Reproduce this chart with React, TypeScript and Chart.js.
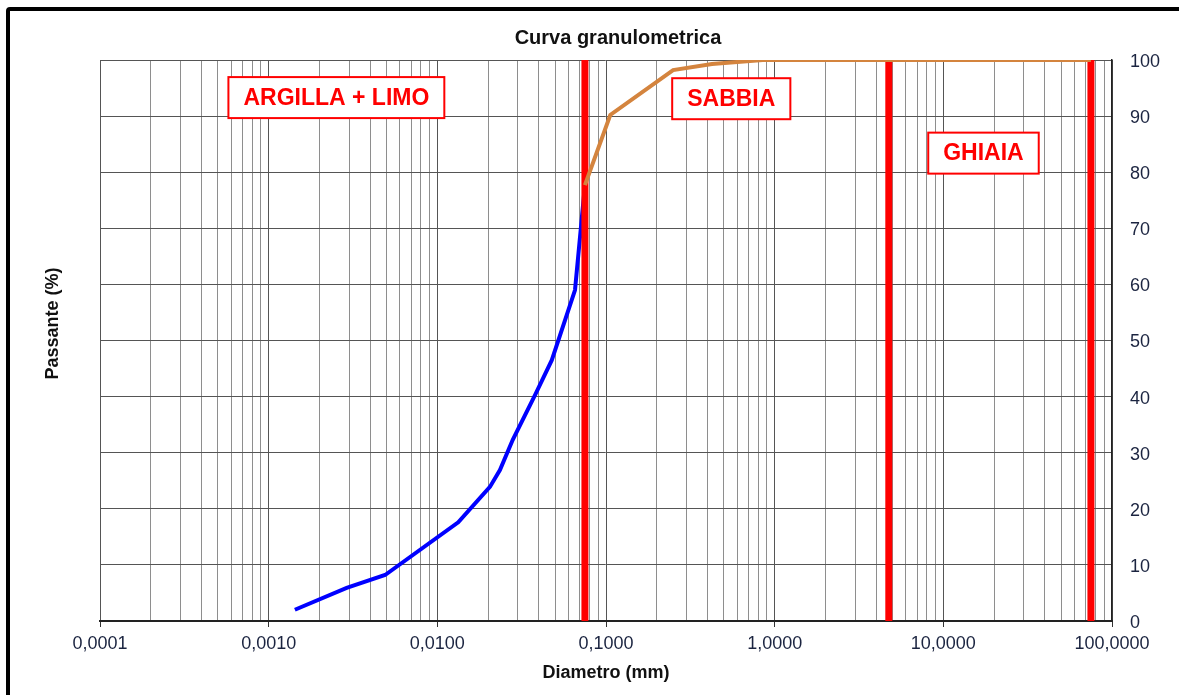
import React, { useEffect, useRef } from 'react';
import { Chart, registerables } from 'chart.js';

Chart.register(...registerables);

// ---- Data ----
const blueDiameters = [0.00143, 0.0029, 0.0049, 0.0133, 0.0205, 0.0235, 0.028, 0.038, 0.0477, 0.0655, 0.075];
const bluePassing = [2.0, 5.9, 8.2, 17.6, 23.9, 26.9, 32.3, 40.3, 46.5, 59.0, 77.7];

const orangeDiameters = [0.075, 0.106, 0.25, 0.425, 0.85, 2.0, 4.75, 75];
const orangePassing = [77.7, 90.2, 98.2, 99.3, 100, 100, 100, 100];

const boundaryDiameters = [0.075, 4.75, 75];

const xDecades = [0.0001, 0.001, 0.01, 0.1, 1, 10, 100];
const yMin = 0;
const yMax = 100;
const yStep = 10;

const zoneLabels = ['ARGILLA + LIMO', 'SABBIA', 'GHIAIA'];
const zoneLabelDiameters = [0.00252, 0.553, 17.3];
const zoneLabelPassing = [93.3, 93.1, 83.4];

const FONT = "'Liberation Sans', Arial, sans-serif";

const allXTicks: number[] = [];
xDecades.forEach((d, i) => {
  if (i < xDecades.length - 1) {
    for (let k = 1; k <= 9; k++) allXTicks.push(k * d);
  } else {
    allXTicks.push(d);
  }
});

const isDecade = (v: number | undefined) => {
  if (v === undefined || v <= 0) return false;
  const l = Math.log10(v);
  return Math.abs(l - Math.round(l)) < 1e-6;
};

const fmt = (v: number) => v.toFixed(4).replace('.', ',');

const decorPlugin = {
  id: 'decor',
  afterDatasetsDraw(chart: any) {
    const { ctx, chartArea, scales } = chart;
    const xs = scales.x;
    const ys = scales.y;
    ctx.save();
    // zone label boxes
    ctx.font = `bold 23px ${FONT}`;
    ctx.textAlign = 'center';
    ctx.textBaseline = 'middle';
    zoneLabels.forEach((t, i) => {
      const cx = xs.getPixelForValue(zoneLabelDiameters[i]);
      const cy = ys.getPixelForValue(zoneLabelPassing[i]);
      const w = ctx.measureText(t).width + 30;
      const h = 41;
      ctx.fillStyle = '#ffffff';
      ctx.fillRect(cx - w / 2, cy - h / 2, w, h);
      ctx.strokeStyle = '#ff0000';
      ctx.lineWidth = 2;
      ctx.strokeRect(cx - w / 2, cy - h / 2, w, h);
      ctx.fillStyle = '#ff0000';
      ctx.fillText(t, cx, cy + 1);
    });
    // title
    ctx.fillStyle = '#111111';
    ctx.font = `bold 20px ${FONT}`;
    ctx.fillText('Curva granulometrica', (chartArea.left + chartArea.right) / 2 + 12, chartArea.top - 22);
    // y title
    ctx.translate(53, (chartArea.top + chartArea.bottom) / 2 - 17);
    ctx.rotate(-Math.PI / 2);
    ctx.font = `bold 18px ${FONT}`;
    ctx.fillText('Passante (%)', 0, 0);
    ctx.restore();
  },
};

export default function App() {
  const ref = useRef<HTMLCanvasElement>(null);

  useEffect(() => {
    if (!ref.current) return;
    Chart.defaults.font.family = FONT;
    const chart = new Chart(ref.current, {
      type: 'line',
      data: {
        datasets: [
          {
            label: 'Sedimentazione',
            data: blueDiameters.map((d, i) => ({ x: d, y: bluePassing[i] })),
            borderColor: '#0000ff',
            borderWidth: 4,
            pointRadius: 0,
            tension: 0,
            order: 2,
          },
          {
            label: 'Setacciatura',
            data: orangeDiameters.map((d, i) => ({ x: d, y: orangePassing[i] })),
            borderColor: '#d4843e',
            borderWidth: 4,
            pointRadius: 0,
            tension: 0,
            order: 0,
          },
          ...boundaryDiameters.map((d) => ({
            label: 'limite ' + d,
            data: [
              { x: d, y: yMin },
              { x: d, y: yMax },
            ],
            borderColor: '#ff0000',
            borderWidth: 7,
            pointRadius: 0,
            borderCapStyle: 'butt' as const,
            order: 1,
          })),
        ],
      },
      options: {
        responsive: false,
        animation: false,
        layout: { padding: { left: 100, top: 60, right: 0, bottom: 0 } },
        plugins: {
          legend: { display: false },
          tooltip: { enabled: false },
          title: { display: false },
        },
        scales: {
          x: {
            type: 'logarithmic',
            position: 'bottom',
            min: xDecades[0],
            max: xDecades[xDecades.length - 1],
            afterBuildTicks: (s: any) => {
              s.ticks = allXTicks.map((v) => ({ value: v }));
            },
            afterFit: (s: any) => {
              s.height = 74;
            },
            ticks: {
              autoSkip: false,
              maxRotation: 0,
              minRotation: 0,
              padding: 6,
              color: '#1b2440',
              font: { size: 18 },
              callback: (v: any) => (isDecade(Number(v)) ? fmt(Number(v)) : ''),
            },
            grid: {
              color: (c: any) => (isDecade(c.tick?.value) ? '#555555' : '#8e8e8e'),
              tickColor: (c: any) => (isDecade(c.tick?.value) ? '#333333' : 'rgba(0,0,0,0)'),
              tickLength: 6,
              lineWidth: 1,
            },
            border: { color: '#222222', width: 2 },
            title: {
              display: true,
              text: 'Diametro (mm)',
              color: '#111111',
              font: { size: 18, weight: 'bold' },
              padding: { top: 0, bottom: 11 },
            },
          },
          y: {
            type: 'linear',
            position: 'right',
            min: yMin,
            max: yMax,
            afterFit: (s: any) => {
              s.width = 67;
            },
            ticks: {
              stepSize: yStep,
              padding: 8,
              labelOffset: 2,
              color: '#1b2440',
              font: { size: 18 },
              callback: (v: any) => String(v),
            },
            grid: {
              color: '#555555',
              lineWidth: 1,
              tickLength: 10,
              tickColor: 'rgba(0,0,0,0)',
            },
            border: { color: '#222222', width: 1.5 },
          },
        },
      } as any,
      plugins: [decorPlugin],
    });
    return () => chart.destroy();
  }, []);

  return (
    <div
      style={{
        position: 'fixed',
        left: 0,
        top: 0,
        width: 1179,
        height: 695,
        background: '#ffffff',
        overflow: 'hidden',
      }}
    >
      <div
        style={{
          position: 'absolute',
          left: 6,
          top: 7,
          width: 1300,
          height: 800,
          border: '4px solid #000',
          borderRadius: 4,
          boxSizing: 'border-box',
        }}
      />
      <canvas
        ref={ref}
        width={1179}
        height={695}
        style={{ position: 'absolute', left: 0, top: 0, width: 1179, height: 695 }}
      />
    </div>
  );
}
